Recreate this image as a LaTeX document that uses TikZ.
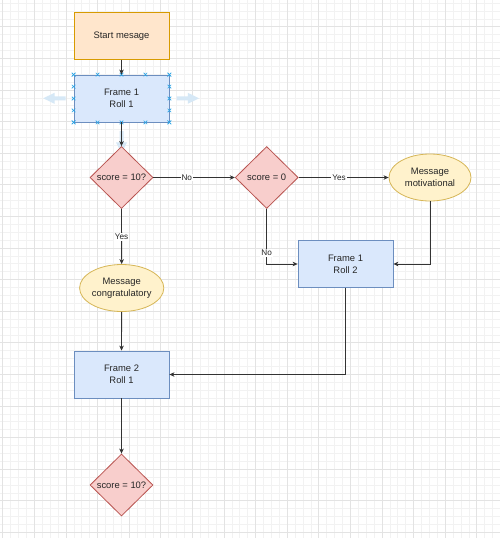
\documentclass[tikz,border=0pt]{standalone}
\usepackage{fontspec}
\setmainfont{Liberation Sans}
\usetikzlibrary{shapes.geometric, arrows.meta, calc}

\definecolor{orangefill}{HTML}{FFE6CC}
\definecolor{orangeline}{HTML}{D79B00}
\definecolor{bluefill}{HTML}{DAE8FC}
\definecolor{blueline}{HTML}{6C8EBF}
\definecolor{redfill}{HTML}{F8CECC}
\definecolor{redline}{HTML}{B85450}
\definecolor{yellowfill}{HTML}{FFF2CC}
\definecolor{yellowline}{HTML}{D6B656}
\definecolor{gridminor}{HTML}{F2F2F2}
\definecolor{gridmajor}{HTML}{E3E3E3}
\definecolor{hoverblue}{HTML}{D6E8F6}
\definecolor{handleblue}{HTML}{29A3E6}

\begin{document}
\begin{tikzpicture}[x=1pt, y=-1pt, line width=0.8pt,
    every node/.style={font=\fontsize{9.4}{11.7}\selectfont, text=black!85, align=center},
    startbox/.style={draw=orangeline, fill=orangefill, minimum width=95pt, minimum height=47pt, inner sep=0pt},
    framebox/.style={draw=blueline, fill=bluefill, minimum width=95pt, minimum height=47pt, inner sep=0pt},
    check/.style={diamond, draw=redline, fill=redfill, minimum width=63pt, minimum height=62pt, inner sep=0pt},
    message/.style={ellipse, draw=yellowline, fill=yellowfill, minimum width=82pt, minimum height=47pt, inner sep=0pt},
    link/.style={draw=black!80, -{Stealth[length=5pt, width=4.5pt, inset=1.5pt]}},
    linklabel/.style={fill=white, inner sep=1pt, font=\fontsize{8.2}{10}\selectfont},
    handle/.style={draw=handleblue, line width=0.6pt}]

    \useasboundingbox (0,0) rectangle (500,538);
    \fill[white] (0,0) rectangle (500,538);

    % draw grid
    \foreach \k in {0,...,63}
        \draw[gridminor, line width=0.6pt] ({2.7+7.9*\k},0) -- ({2.7+7.9*\k},538);
    \foreach \k in {-3,...,64}
        \draw[gridminor, line width=0.6pt] (0,{26.7+7.9*\k}) -- (500,{26.7+7.9*\k});
    \foreach \k in {0,4,...,60}
        \draw[gridmajor, line width=0.7pt] ({2.7+7.9*\k},0) -- ({2.7+7.9*\k},538);
    \foreach \k in {0,4,...,64}
        \draw[gridmajor, line width=0.7pt] (0,{26.7+7.9*\k}) -- (500,{26.7+7.9*\k});

    % draw hover arrows round the selected frame
    \fill[hoverblue] (43.3,98.3) -- (54.5,92.8) -- (54.5,96.3) -- (65.7,96.3)
                     -- (65.7,100.3) -- (54.5,100.3) -- (54.5,103.8) -- cycle;
    \fill[hoverblue] (199.0,98.3) -- (187.8,92.8) -- (187.8,96.3) -- (176.6,96.3)
                     -- (176.6,100.3) -- (187.8,100.3) -- (187.8,103.8) -- cycle;
    \fill[hoverblue] (121.5,153.5) -- (116,142.3) -- (119.5,142.3) -- (119.5,131.1)
                     -- (123.5,131.1) -- (123.5,142.3) -- (127,142.3) -- cycle;

    % draw nodes
    \node[startbox] (start)    at (121.5,35.7)  {Start mesage};
    \node[framebox] (frameA)   at (121.5,98.5)  {Frame 1\\Roll 1};
    \node[check]    (checkA)   at (121.5,177.5) {score = 10?};
    \node[check]    (checkB)   at (266.7,177.5) {score = 0};
    \node[message]  (motiv)    at (430,177.5)   {Message\\motivational};
    \node[framebox] (frameB)   at (345.5,264)   {Frame 1\\Roll 2};
    \node[message]  (congrat)  at (121.7,288)   {Message\\congratulatory};
    \node[framebox] (frameC)   at (121.5,374.5) {Frame 2\\Roll 1};
    \node[check]    (checkC)   at (121.5,485)   {score = 10?};

    % draw selection handles
    \foreach \t in {0,0.25,...,1} {
        \coordinate (h) at ($(frameA.north west)!\t!(frameA.north east)$);
        \draw[handle] (h) ++(-1.8,-1.8) -- ++(3.6,3.6) ++(-3.6,0) -- ++(3.6,-3.6);
        \coordinate (h) at ($(frameA.south west)!\t!(frameA.south east)$);
        \draw[handle] (h) ++(-1.8,-1.8) -- ++(3.6,3.6) ++(-3.6,0) -- ++(3.6,-3.6);
        \coordinate (h) at ($(frameA.north west)!\t!(frameA.south west)$);
        \draw[handle] (h) ++(-1.8,-1.8) -- ++(3.6,3.6) ++(-3.6,0) -- ++(3.6,-3.6);
        \coordinate (h) at ($(frameA.north east)!\t!(frameA.south east)$);
        \draw[handle] (h) ++(-1.8,-1.8) -- ++(3.6,3.6) ++(-3.6,0) -- ++(3.6,-3.6);
    }

    % draw connectors
    \draw[link] (start) -- (frameA);
    \draw[link] (frameA) -- (checkA);
    \draw[link] (checkA) -- node[linklabel, pos=0.41] {No} (checkB);
    \draw[link] (checkB) -- node[linklabel, pos=0.45] {Yes} (motiv);
    \draw[link] (checkA) -- node[linklabel, pos=0.51] {Yes} (congrat);
    \draw[link] (checkB.south) |- node[linklabel, pos=0.4] {No} (frameB.west);
    \draw[link] (motiv.south) |- (frameB.east);
    \draw[link] (congrat) -- (frameC);
    \draw[link] (frameB.south) |- (frameC.east);
    \draw[link] (frameC) -- (checkC);

\end{tikzpicture}
\end{document}
